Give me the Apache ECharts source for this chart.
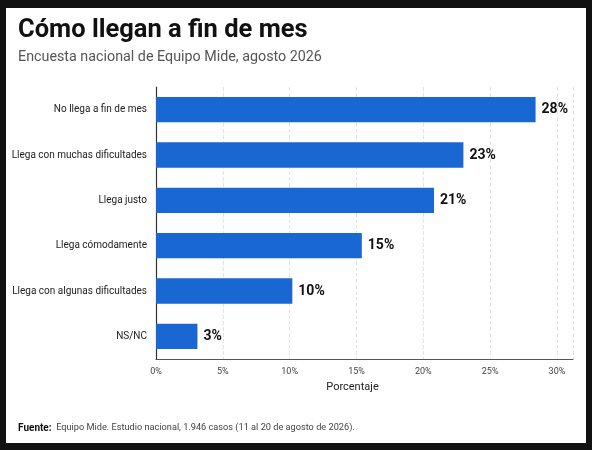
<!DOCTYPE html>
<html>
<head>
<meta charset="utf-8">
<script src="https://cdn.jsdelivr.net/npm/echarts@6.0.0/dist/echarts.min.js"></script>
<style>
  html, body { margin: 0; padding: 0; background: #111; }
  #chart { position: absolute; left: 6px; top: 8px; width: 580px; height: 435px; background: #fff; }
</style>
</head>
<body>
<div id="chart"></div>
<script>
// Cómo llegan a fin de mes - Equipo Mide, agosto 2026
var categorias = ['No llega a fin de mes', 'Llega con muchas dificultades', 'Llega justo', 'Llega cómodamente', 'Llega con algunas dificultades', 'NS/NC'];
var porcentajes = [28.4, 23.0, 20.8, 15.4, 10.2, 3.1];
var etiquetas = ['28%', '23%', '21%', '15%', '10%', '3%'];

var fuente = 'Roboto, "Noto Sans", sans-serif';

var chartDom = document.getElementById('chart');
var myChart = echarts.init(chartDom);
var option;

option = {
  backgroundColor: '#fff',
  animation: false,
  title: [
    {
      text: 'Cómo llegan a fin de mes',
      left: 7,
      top: 5,
      textStyle: { fontFamily: fuente, fontSize: 25.5, fontWeight: 'bold', color: '#111' }
    },
    {
      text: 'Encuesta nacional de Equipo Mide, agosto 2026',
      left: 7,
      top: 37,
      textStyle: { fontFamily: fuente, fontSize: 14.3, fontWeight: 'normal', color: '#555' }
    },
    {
      text: '{b|Fuente:}  Equipo Mide. Estudio nacional, 1.946 casos (11 al 20 de agosto de 2026).',
      left: 7,
      top: 410,
      textStyle: {
        fontFamily: fuente, fontSize: 9.2, fontWeight: 'normal', color: '#444',
        rich: { b: { fontFamily: fuente, fontSize: 10, fontWeight: 'bold', color: '#111' } }
      }
    }
  ],
  grid: { left: 150, right: 13, top: 79, bottom: 84, outerBoundsMode: 'none' },
  xAxis: {
    type: 'value',
    min: 0,
    max: 31.2,
    interval: 5,
    name: 'Porcentaje',
    nameLocation: 'middle',
    nameGap: 23,
    nameTextStyle: { fontFamily: fuente, fontSize: 11, color: '#222', padding: [0, 24, 0, 0] },
    axisLine: { show: true, lineStyle: { color: '#555', width: 1.2 } },
    axisTick: { show: false },
    axisLabel: {
      fontFamily: fuente, fontSize: 9, color: '#444', margin: 8,
      showMaxLabel: false,
      formatter: function (v) { return v + '%'; }
    },
    splitLine: { show: true, lineStyle: { color: '#e2e2e2', type: 'dashed' } }
  },
  yAxis: {
    type: 'category',
    data: categorias,
    inverse: true,
    axisLine: { show: true, lineStyle: { color: '#333', width: 1.2 } },
    axisTick: { show: false },
    axisLabel: { fontFamily: fuente, fontSize: 10, color: '#222', margin: 9 }
  },
  series: [
    {
      type: 'bar',
      data: porcentajes,
      barCategoryGap: '44%',
      itemStyle: { color: '#1967d2' },
      label: {
        show: true,
        position: 'right',
        distance: 6,
        fontFamily: fuente,
        fontSize: 14,
        fontWeight: 'bold',
        color: '#111',
        formatter: function (p) { return etiquetas[p.dataIndex]; }
      }
    }
  ]
};

option && myChart.setOption(option);
</script>
</body>
</html>
